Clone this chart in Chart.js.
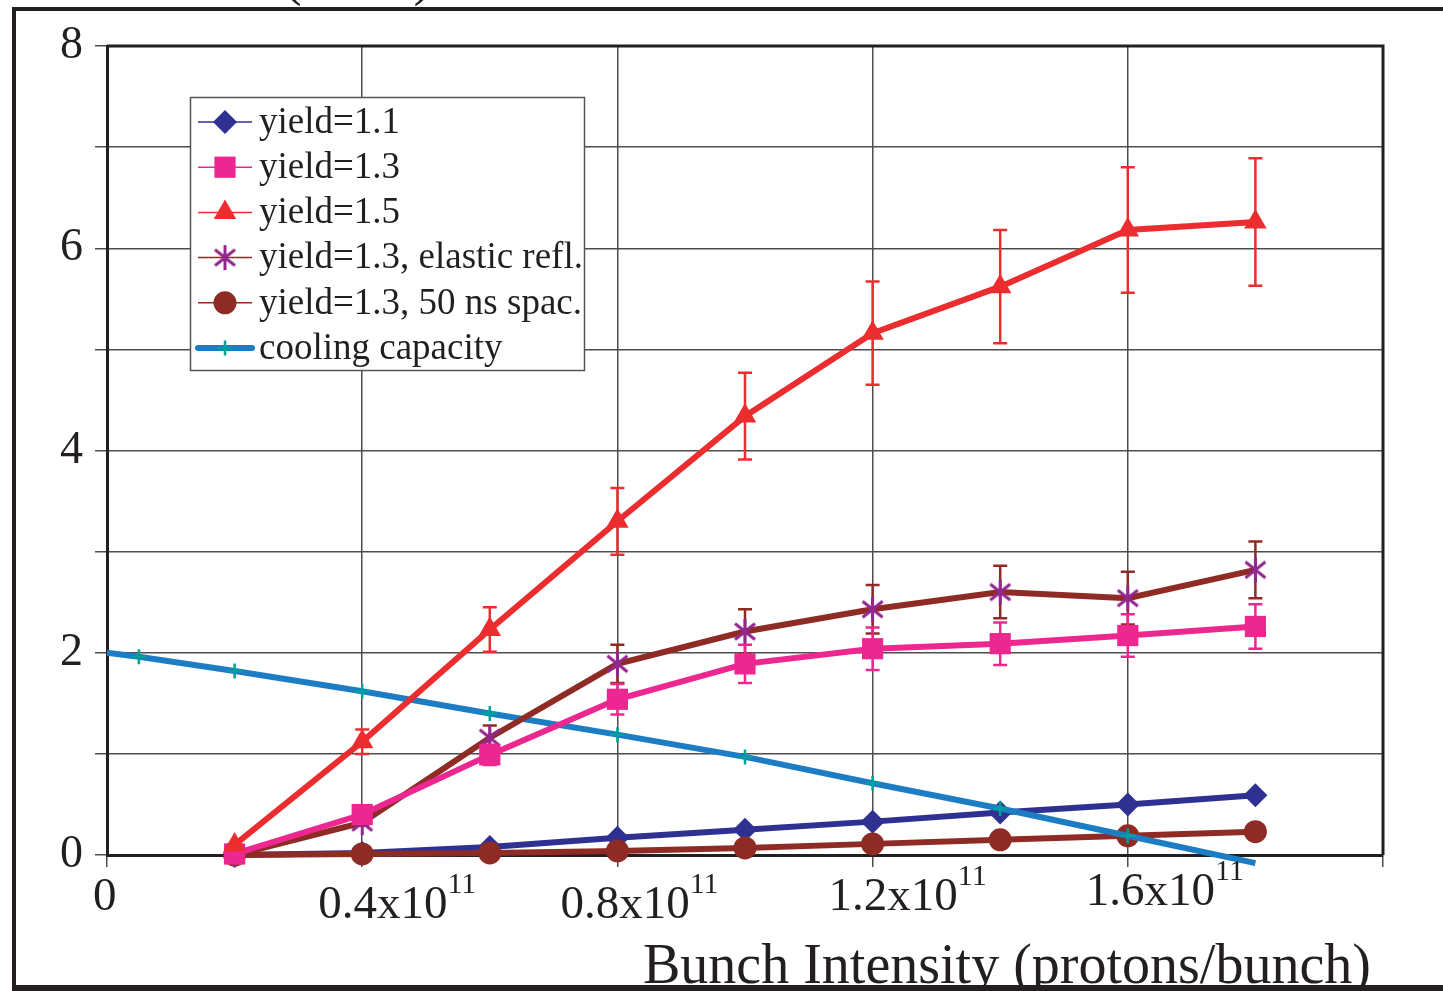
<!DOCTYPE html>
<html>
<head>
<meta charset="utf-8">
<script src="https://cdn.jsdelivr.net/npm/chart.js"></script>
<style>
  html, body { margin: 0; padding: 0; background: #fff; }
  canvas { display: block; }
</style>
</head>
<body>
<canvas id="heatChart" width="1443" height="991"></canvas>
<script>
// bunch intensity in units of 1e11 protons/bunch
const intensity = [0.2, 0.4, 0.6, 0.8, 1.0, 1.2, 1.4, 1.6, 1.8];
const yield11 = [0.0, 0.02, 0.08, 0.17, 0.25, 0.33, 0.42, 0.50, 0.59];
const yield13 = [0.01, 0.40, 0.99, 1.54, 1.89, 2.04, 2.09, 2.17, 2.26];
const yield13Err = [0.0, 0.04, 0.10, 0.15, 0.19, 0.21, 0.21, 0.21, 0.22];
const yield15 = [0.10, 1.12, 2.23, 3.30, 4.34, 5.16, 5.62, 6.18, 6.26];
const yield15Err = [0.01, 0.12, 0.22, 0.33, 0.43, 0.51, 0.56, 0.62, 0.63];
const elasticRefl = [0.0, 0.32, 1.16, 1.89, 2.21, 2.43, 2.60, 2.54, 2.82];
const elasticErr = [0.0, 0.03, 0.12, 0.19, 0.22, 0.24, 0.26, 0.26, 0.28];
const spacing50 = [0.0, 0.01, 0.02, 0.04, 0.07, 0.11, 0.15, 0.19, 0.23];
const coolingX = [0, 0.05, 0.2, 0.4, 0.6, 0.8, 1.0, 1.2, 1.4, 1.6, 1.8];
const coolingY = [2.0, 1.96, 1.82, 1.62, 1.40, 1.19, 0.97, 0.71, 0.46, 0.19, -0.08];

const yTickLabels = [0, 2, 4, 6, 8];
const xTickValues = [0, 0.4, 0.8, 1.2, 1.6];
const xTickText = ['0', '0.4x10', '0.8x10', '1.2x10', '1.6x10'];
const xTickSup = ['', '11', '11', '11', '11'];

// label placement (the original has them slightly staggered)
const xLabelShift = [-14, -44, -57, -44, -42];
const xLabelBase = [910, 918, 918, 910, 905];

const serif = '"Liberation Serif", "Times New Roman", serif';
const ink = '#231F20';

// asterisk marker: vertical stroke plus an X
function makeAsterisk(r, color) {
  const c = document.createElement('canvas');
  const s = Math.ceil(r * 2 + 4);
  c.width = s; c.height = s;
  const g = c.getContext('2d');
  const m = s / 2;
  g.strokeStyle = color;
  g.lineWidth = 3;
  g.beginPath();
  g.moveTo(m, m - r); g.lineTo(m, m + r);
  const d = r * 0.8;
  g.moveTo(m - d, m - d * 0.8); g.lineTo(m + d, m + d * 0.8);
  g.moveTo(m - d, m + d * 0.8); g.lineTo(m + d, m - d * 0.8);
  g.stroke();
  return c;
}
const asterisk = makeAsterisk(12.5, '#92278F');

function pts(xs, ys) {
  return xs.map((x, i) => ({ x: x, y: ys[i] }));
}

const datasets = [
  {
    label: 'yield=1.1',
    data: pts(intensity, yield11),
    borderColor: '#2E3192', backgroundColor: '#2E3192',
    borderWidth: 6, pointStyle: 'rectRot', pointRadius: 12,
    pointBackgroundColor: '#2E3192', pointBorderWidth: 0,
    order: 6
  },
  {
    label: 'yield=1.3',
    data: pts(intensity, yield13), errors: yield13Err, errColor: '#EC2890',
    borderColor: '#EC2890', backgroundColor: '#EC2890',
    borderWidth: 6, pointStyle: 'rect', pointRadius: 15,
    pointBackgroundColor: '#EC2890', pointBorderWidth: 0,
    order: 2
  },
  {
    label: 'yield=1.5',
    data: pts(intensity, yield15), errors: yield15Err, errColor: '#EC2D2F',
    borderColor: '#EC2D2F', backgroundColor: '#EC2D2F',
    borderWidth: 6, pointStyle: 'triangle', pointRadius: 13,
    pointBackgroundColor: '#EC2D2F', pointBorderWidth: 0,
    order: 1
  },
  {
    label: 'yield=1.3, elastic refl.',
    data: pts(intensity, elasticRefl), errors: elasticErr, errColor: '#8E2B24',
    borderColor: '#8E2B24', backgroundColor: '#8E2B24',
    borderWidth: 6, pointStyle: asterisk, pointRadius: 12,
    order: 3
  },
  {
    label: 'yield=1.3, 50 ns spac.',
    data: pts(intensity, spacing50),
    borderColor: '#8E2B24', backgroundColor: '#8E2B24',
    borderWidth: 6, pointStyle: 'circle', pointRadius: 11.5,
    pointBackgroundColor: '#8E2B24', pointBorderWidth: 0,
    order: 5
  },
  {
    label: 'cooling capacity',
    data: pts(coolingX, coolingY),
    borderColor: '#1C7DC4', backgroundColor: '#1C7DC4',
    borderWidth: 6, pointStyle: 'cross',
    pointRadius: coolingX.map((x, i) => (i === 0 || i === coolingX.length - 1) ? 0 : 7.5),
    pointBorderColor: '#00A19B', pointBorderWidth: 2.5,
    order: 4
  }
];
datasets.forEach(d => { d.clip = false; d.tension = 0; d.fill = false; });

const errorBars = {
  id: 'errorBars',
  beforeDatasetDraw(chart, args) {
    const ds = chart.data.datasets[args.index];
    if (!ds.errors) return;
    const ctx = chart.ctx;
    const xs = chart.scales.x, ys = chart.scales.y;
    ctx.save();
    ctx.strokeStyle = ds.errColor;
    ctx.lineWidth = 2.5;
    ds.data.forEach((p, i) => {
      const e = ds.errors[i];
      if (!e) return;
      const px = xs.getPixelForValue(p.x);
      const top = ys.getPixelForValue(p.y + e);
      const bot = ys.getPixelForValue(p.y - e);
      ctx.beginPath();
      ctx.moveTo(px, top); ctx.lineTo(px, bot);
      ctx.moveTo(px - 7, top); ctx.lineTo(px + 7, top);
      ctx.moveTo(px - 7, bot); ctx.lineTo(px + 7, bot);
      ctx.stroke();
    });
    ctx.restore();
  }
};

const decorations = {
  id: 'decorations',
  afterDraw(chart) {
    const ctx = chart.ctx;
    const a = chart.chartArea;
    const xs = chart.scales.x;
    ctx.save();

    // top and right edges of the plot box
    ctx.strokeStyle = ink;
    ctx.lineWidth = 3;
    ctx.beginPath();
    ctx.moveTo(a.left, a.top); ctx.lineTo(a.right, a.top); ctx.lineTo(a.right, a.bottom);
    ctx.stroke();

    // x tick labels with exponent
    ctx.fillStyle = ink;
    ctx.textAlign = 'left';
    ctx.textBaseline = 'alphabetic';
    xTickValues.forEach((v, i) => {
      const px = xs.getPixelForValue(v) + xLabelShift[i];
      ctx.font = '47px ' + serif;
      ctx.fillText(xTickText[i], px, xLabelBase[i]);
      if (xTickSup[i]) {
        const w = ctx.measureText(xTickText[i]).width;
        ctx.font = '30px ' + serif;
        ctx.fillText(xTickSup[i], px + w, xLabelBase[i] - 25);
      }
    });

    // axis titles
    ctx.font = '56px ' + serif;
    ctx.fillText('Bunch Intensity (protons/bunch)', 643, 983);
    ctx.fillText('(W/m)', 283, -6);

    // legend
    const lx = 190, ly = 97, lw = 394, lh = 273;
    ctx.fillStyle = '#fff';
    ctx.fillRect(lx, ly, lw, lh);
    ctx.strokeStyle = '#555';
    ctx.lineWidth = 1.5;
    ctx.strokeRect(lx + 0.5, ly + 0.5, lw, lh);
    ctx.font = '37px ' + serif;
    ctx.textBaseline = 'middle';
    chart.data.datasets.forEach((ds, i) => {
      const cy = 122 + i * 45.2;
      const thick = ds.pointStyle === 'cross';
      ctx.strokeStyle = ds.borderColor;
      ctx.lineWidth = thick ? 6 : 1.5;
      ctx.lineCap = thick ? 'round' : 'butt';
      ctx.beginPath();
      ctx.moveTo(thick ? 198 : 198, cy); ctx.lineTo(252, cy);
      ctx.stroke();
      ctx.lineCap = 'butt';
      ctx.fillStyle = ds.pointBackgroundColor || ds.borderColor;
      ctx.strokeStyle = ds.pointBorderColor || ds.borderColor;
      ctx.lineWidth = ds.pointBorderWidth || 0;
      const r = Array.isArray(ds.pointRadius) ? 7.5 : ds.pointRadius;
      Chart.helpers.drawPoint(ctx, {
        pointStyle: ds.pointStyle, radius: r, rotation: 0,
        borderWidth: ds.pointBorderWidth || 0
      }, 225, cy);
      ctx.fillStyle = ink;
      ctx.fillText(ds.label, 259, cy + 1);
    });

    // outer frame
    ctx.fillStyle = ink;
    ctx.fillRect(12, 7, 1431, 4);
    ctx.fillRect(12, 7, 4, 984);
    ctx.fillRect(12, 985, 1431, 6);
    ctx.restore();
  }
};

new Chart(document.getElementById('heatChart'), {
  type: 'line',
  data: { datasets: datasets },
  options: {
    responsive: false,
    animation: false,
    events: [],
    layout: { padding: { top: 46, right: 60, left: 0, bottom: 0 } },
    plugins: { legend: { display: false }, tooltip: { enabled: false } },
    scales: {
      x: {
        type: 'linear', min: 0, max: 2.0,
        ticks: { display: false, stepSize: 0.4 },
        grid: { color: '#4D4D4D', lineWidth: 1.5, tickLength: 12, drawTicks: true },
        border: { color: ink, width: 3 },
        afterFit(scale) { scale.height = 136; }
      },
      y: {
        min: 0, max: 8,
        ticks: {
          stepSize: 1, color: ink, padding: 12,
          font: { family: serif, size: 46 },
          callback: v => yTickLabels.includes(v) ? String(v) : ''
        },
        grid: { color: '#4D4D4D', lineWidth: 1.5, tickLength: 12, drawTicks: true },
        border: { color: ink, width: 3 },
        afterFit(scale) { scale.width = 107; }
      }
    }
  },
  plugins: [errorBars, decorations]
});
</script>
</body>
</html>
